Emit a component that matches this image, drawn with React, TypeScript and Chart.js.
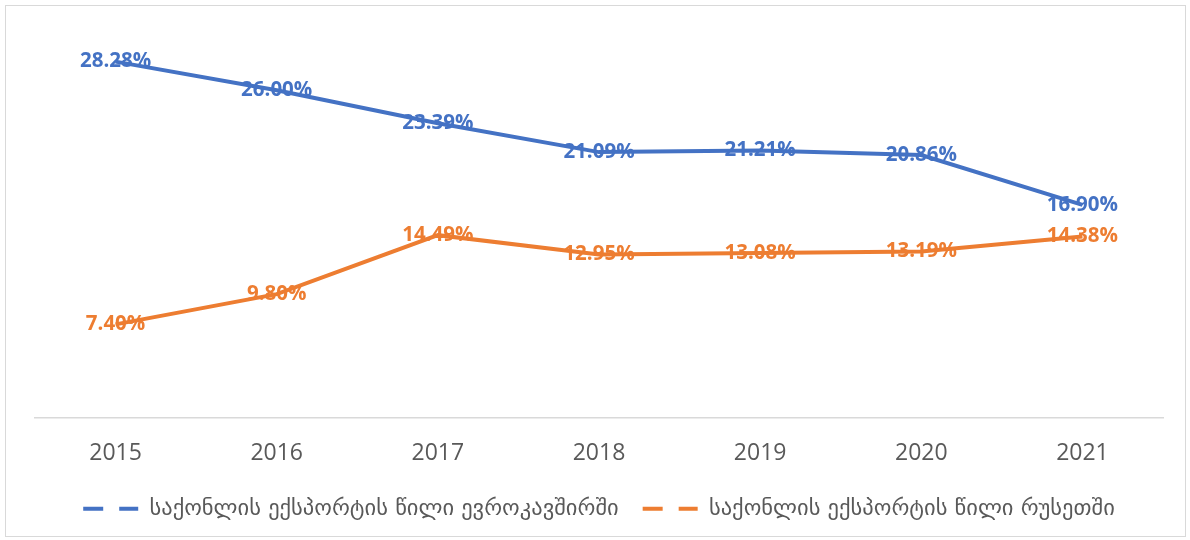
import React, { useEffect, useRef } from "react";
import { Chart, registerables } from "chart.js";

Chart.register(...registerables);

const categories = ["2015", "2016", "2017", "2018", "2019", "2020", "2021"];
const euShare = [28.28, 26.0, 23.39, 21.09, 21.21, 20.86, 16.9];
const russiaShare = [7.4, 9.8, 14.49, 12.95, 13.08, 13.19, 14.38];
const seriesNames = [
  "საქონლის ექსპორტის წილი ევროკავშირში",
  "საქონლის ექსპორტის წილი რუსეთში",
];
const yMin = 0;
const yMax = 30;

const BLUE = "#4472C4";
const ORANGE = "#ED7D31";

const dataLabelPlugin = {
  id: "dataLabels",
  afterDatasetsDraw(chart: any) {
    const ctx = chart.ctx;
    ctx.save();
    ctx.font = "bold 20.5px 'Open Sans'";
    ctx.textAlign = "center";
    ctx.textBaseline = "middle";
    chart.data.datasets.forEach((ds: any, i: number) => {
      const meta = chart.getDatasetMeta(i);
      ctx.fillStyle = ds.borderColor;
      meta.data.forEach((pt: any, j: number) => {
        const v = ds.data[j] as number;
        ctx.fillText(v.toFixed(2) + "%", pt.x, pt.y);
      });
    });
    ctx.restore();
  },
};

export default function App() {
  const ref = useRef<HTMLCanvasElement | null>(null);
  useEffect(() => {
    if (!ref.current) return;
    const chart = new Chart(ref.current, {
      type: "line",
      data: {
        labels: categories,
        datasets: [
          {
            label: seriesNames[0],
            data: euShare,
            borderColor: BLUE,
            backgroundColor: BLUE,
            borderWidth: 4,
            pointRadius: 0,
            tension: 0,
          },
          {
            label: seriesNames[1],
            data: russiaShare,
            borderColor: ORANGE,
            backgroundColor: ORANGE,
            borderWidth: 4,
            pointRadius: 0,
            tension: 0,
          },
        ],
      },
      options: {
        animation: false,
        responsive: false,
        maintainAspectRatio: false,
        layout: { padding: { left: 35, right: 27, top: 40, bottom: 10 } },
        scales: {
          x: {
            offset: true,
            grid: { display: false, drawTicks: false },
            border: { display: true, color: "#D9D9D9", width: 1.5 },
            ticks: {
              color: "#595959",
              font: { family: "'Open Sans'", size: 23 },
              padding: 22,
            },
            afterFit(scale: any) {
              scale.height = 56;
            },
          },
          y: {
            display: false,
            min: yMin,
            max: yMax,
          },
        },
        plugins: {
          tooltip: { enabled: false },
          legend: {
            position: "bottom",
            labels: {
              usePointStyle: true,
              pointStyle: "line",
              pointStyleWidth: 55,
              boxHeight: 4,
              color: "#595959",
              font: { family: "'DejaVu Sans'", size: 22.5 },
              padding: 24,
              generateLabels(chart: any) {
                return chart.data.datasets.map((ds: any, i: number) => ({
                  text: ds.label,
                  strokeStyle: ds.borderColor,
                  fillStyle: ds.borderColor,
                  lineWidth: 4,
                  lineDash: [20, 16],
                  pointStyle: "line",
                  fontColor: "#595959",
                  hidden: false,
                  datasetIndex: i,
                }));
              },
            },
          },
        },
      },
      plugins: [dataLabelPlugin],
    });
    return () => chart.destroy();
  }, []);
  return (
    <div>
      <div
        style={{
          position: "fixed",
          left: 5,
          top: 5,
          width: 1181,
          height: 532,
          border: "1.5px solid #D9D9D9",
          boxSizing: "border-box",
        }}
      />
      <canvas
        ref={ref}
        width={1190}
        height={540}
        style={{ position: "fixed", left: 0, top: 0, width: 1190, height: 540 }}
      />
    </div>
  );
}
